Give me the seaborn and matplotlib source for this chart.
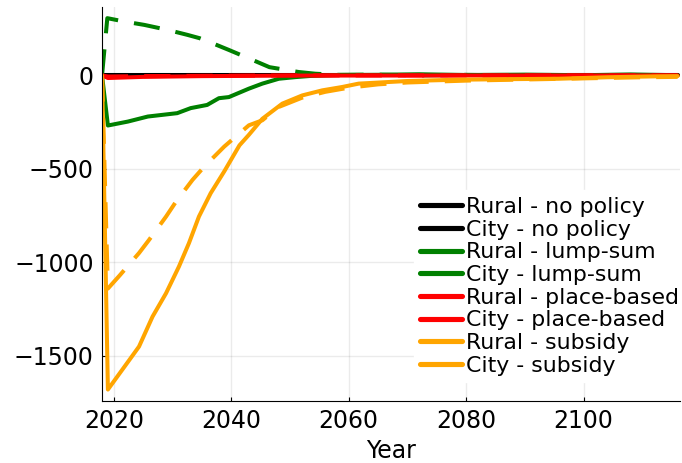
import numpy as np
import pandas as pd
import seaborn as sns
import matplotlib.pyplot as plt
from matplotlib.lines import Line2D

# data (year, value) per series
years_none = [2018, 2116]
rural_none = [0, 0]
city_none = [0, 0]

years_rural_lump = [2018, 2019, 2022.4, 2025.8, 2030.8, 2033.1, 2035.9, 2037.9, 2039.6, 2043, 2045.3,
                    2048.1, 2051, 2053.5, 2058, 2065, 2072, 2080, 2090, 2100, 2108, 2116]
rural_lump = [0, -268, -247, -220, -202, -175, -158, -122, -116, -71, -44,
              -18, -9, -3, 2, 3, 6, 2, 4, 1, 5, 1]

years_city_lump = [2018, 2018.9, 2021.8, 2025.2, 2029.2, 2032.5, 2034.6, 2036.8, 2039.6, 2043.6,
                   2046.5, 2051.5, 2054.3, 2058, 2065, 2072, 2080, 2090, 2100, 2116]
city_lump = [0, 306, 288, 270, 243, 217, 199, 172, 136, 83,
             44, 18, 9, 3, 4, 0, 3, -2, 2, 0]

years_rural_place = [2018, 2019, 2025, 2035, 2050, 2116]
rural_place = [0, -14, -8, -4, -1, 0]
years_city_place = [2018, 2019, 2025, 2035, 2050, 2116]
city_place = [0, -6, -4, -2, 0, 0]

years_rural_sub = [2018, 2019, 2022.9, 2024.3, 2026.6, 2028.9, 2031.1, 2032.8, 2034.5, 2036.5, 2038.8,
                   2041.4, 2043, 2045.3, 2048.7, 2052.1, 2055.5, 2058.9, 2061.7, 2070, 2078.7,
                   2088, 2095.7, 2104, 2112.7, 2116]
rural_sub = [0, -1680, -1511, -1450, -1290, -1165, -1022, -897, -755, -630, -514,
             -374, -318, -232, -151, -107, -80, -62, -44, -30, -23,
             -20, -18, -10, -5, -4]

years_city_sub = [2018, 2019, 2021, 2024.3, 2026, 2028.9, 2030.6, 2033.4, 2035.4, 2038.8, 2041,
                  2043, 2045.3, 2048, 2052, 2056, 2060, 2065, 2070, 2080, 2090, 2100, 2110, 2116]
city_sub = [0, -1140, -1070, -950, -880, -755, -675, -559, -488, -381, -321,
            -267, -240, -170, -120, -88, -66, -48, -38, -28, -22, -16, -10, -8]

series = [
    ("Rural - no policy", years_none, rural_none, "black", "Rural"),
    ("City - no policy", years_none, city_none, "black", "City"),
    ("Rural - lump-sum", years_rural_lump, rural_lump, "green", "Rural"),
    ("City - lump-sum", years_city_lump, city_lump, "green", "City"),
    ("Rural - place-based", years_rural_place, rural_place, "red", "Rural"),
    ("City - place-based", years_city_place, city_place, "red", "City"),
    ("Rural - subsidy", years_rural_sub, rural_sub, "orange", "Rural"),
    ("City - subsidy", years_city_sub, city_sub, "orange", "City"),
]

sns.set_style("ticks")
plt.rcParams['font.family'] = ['DejaVu Sans']
plt.rcParams.update({'text.color': 'black', 'axes.labelcolor': 'black',
                     'xtick.color': 'black', 'ytick.color': 'black',
                     'axes.edgecolor': 'black'})

fig = plt.figure(figsize=(6.82, 4.63), dpi=100)
ax = fig.add_axes([0.1496, 0.134, 0.8474, 0.851])

lw = 2.9
handles = []
for label, yrs, vals, col, region in series:
    ls = '-' if region == "Rural" else (0, (6.5, 4.0))
    sns.lineplot(x=yrs, y=vals, color=col, linewidth=lw, linestyle=ls, ax=ax,
                 estimator=None, sort=False)
    handles.append(Line2D([0], [0], color=col, lw=lw + 0.8, solid_capstyle='round'))

ax.set_xlim(2018, 2116.4)
ax.set_ylim(-1741, 366)
ax.set_xticks([2020, 2040, 2060, 2080, 2100])
ax.set_yticks([0, -500, -1000, -1500])
ax.grid(True, color='black', alpha=0.08, linewidth=1)
ax.tick_params(direction='in', length=3, width=0.8, labelsize=17, pad=6)
for s in ['top', 'right']:
    ax.spines[s].set_visible(False)
ax.set_xlabel("Year", fontsize=17, labelpad=4)
ax.set_ylabel("")

leg = ax.legend(handles, [s[0] for s in series], loc='upper left',
                bbox_to_anchor=(0.52, 0.562), fontsize=15.8, handlelength=1.9,
                handletextpad=0.2, labelspacing=0.12, borderpad=0.3,
                frameon=True, fancybox=False, framealpha=1)
leg.get_frame().set_edgecolor('white')
leg.get_frame().set_facecolor('white')

fig.savefig("out.png", dpi=100)
